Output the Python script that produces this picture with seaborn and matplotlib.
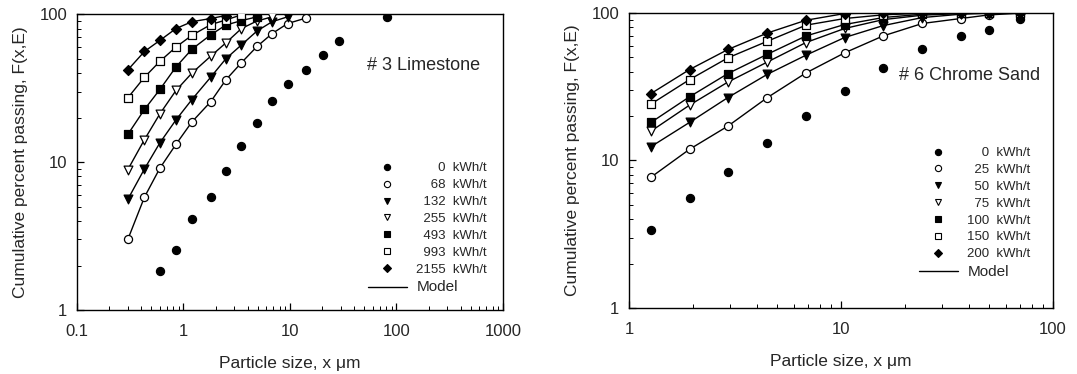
import pandas as pd
import matplotlib
matplotlib.use('Agg')
import matplotlib.pyplot as plt
from matplotlib.lines import Line2D
from matplotlib.ticker import LogLocator, FuncFormatter, NullFormatter
import seaborn as sns

# ── #3 Limestone: particle size (um) and cumulative % passing ──
ls_size = [0.3, 0.43, 0.6, 0.85, 1.2, 1.8, 2.5, 3.5, 4.9, 6.8, 9.5, 14, 20.5, 29, 82]
ls_energy = [0, 68, 132, 255, 493, 993, 2155]
ls_feed = [1.84, 2.53, 4.1, 5.8, 8.7, 12.9, 18.4, 25.7, 33.6, 42, 53, 66, 96]  # from 0.6 um
ls_e68 = [3.0, 5.8, 9.1, 13.2, 18.7, 25.6, 36, 47, 60.5, 74, 86.5, 94]
ls_e132 = [5.6, 9.0, 13.5, 19.3, 26.5, 37.5, 50, 62, 77, 89, 96]
ls_e255 = [8.9, 14.2, 21.2, 30.5, 40, 52, 64, 80, 90, 96]
ls_e493 = [15.4, 22.7, 31, 44, 58, 72.5, 84.5, 90.5, 96]
ls_e993 = [27.2, 37.5, 48, 60, 72, 85, 91.5, 99]
ls_e2155 = [42, 56, 66.5, 80, 89, 93.5, 98]

# ── #6 Chrome Sand ──
cs_size = [1.27, 1.93, 2.93, 4.5, 6.84, 10.4, 15.8, 24.2, 36.7, 50, 70]
cs_energy = [0, 25, 50, 75, 100, 150, 200]
cs_feed = [3.36, 5.57, 8.3, 13.1, 19.9, 29.5, 42.3, 56.5, 69.5, 76.4, 90.6]
cs_e25 = [7.7, 11.9, 17.1, 26.7, 39.2, 53.6, 69.8, 84.8, 91.6, 97, 99.5]
cs_e50 = [12.4, 18.1, 26.7, 38.4, 51.7, 68.1, 82, 93, 98, 99.5, 100]
cs_e75 = [15.8, 23.7, 34, 46.5, 63, 78.4, 90, 96.5, 99, 100, 100]
cs_e100 = [18.1, 27, 38.8, 52.5, 69.8, 83.4, 93, 98, 99.5, 100, 100]
cs_e150 = [24.1, 35.3, 49.6, 64.3, 82.6, 91.6, 97, 99.5, 100, 100, 100]
cs_e200 = [28.4, 41.3, 56.5, 73.1, 89.2, 99, 100, 100, 100, 100, 100]

# marker, face colour, size for each energy level (same order in both panels)
STYLES = [('o', 'black', 34), ('o', 'white', 34), ('v', 'black', 40), ('v', 'white', 40),
          ('s', 'black', 30), ('s', 'white', 30), ('D', 'black', 26)]


def long_frame(size, energy, all_series, feed_offset):
    parts = []
    for i, (e, vals) in enumerate(zip(energy, all_series)):
        start = feed_offset if i == 0 else 0
        xs = size[start:start + len(vals)]
        parts.append(pd.DataFrame({'size': xs, 'passing': vals, 'energy': e}))
    return pd.concat(parts, ignore_index=True)


df_ls = long_frame(ls_size, ls_energy,
                   [ls_feed, ls_e68, ls_e132, ls_e255, ls_e493, ls_e993, ls_e2155], 2)
df_cs = long_frame(cs_size, cs_energy,
                   [cs_feed, cs_e25, cs_e50, cs_e75, cs_e100, cs_e150, cs_e200], 0)

sns.set_style('ticks')
plt.rcParams['font.family'] = ['Liberation Sans', 'DejaVu Sans']
plt.rcParams['axes.linewidth'] = 1.0

fig = plt.figure(figsize=(10.77, 3.74), dpi=100)
ax1 = fig.add_axes([0.0715, 0.171, 0.3955, 0.791])
ax2 = fig.add_axes([0.584, 0.1765, 0.3937, 0.789])


def draw_panel(ax, df, energy, wide_digits, anchor):
    handles, labels = [], []
    for i, e in enumerate(energy):
        sub = df[df['energy'] == e]
        marker, face, size = STYLES[i]
        if i > 0:
            # model fit line (feed has no model)
            sns.lineplot(data=sub, x='size', y='passing', ax=ax, color='black',
                         linewidth=1.0, sort=True, legend=False)
        sns.scatterplot(data=sub, x='size', y='passing', ax=ax, marker=marker,
                        color=face, edgecolor='black', linewidth=0.9, s=size,
                        zorder=5, legend=False)
        handles.append(Line2D([], [], marker=marker, linestyle='none',
                              markerfacecolor=face, markeredgecolor='black',
                              markeredgewidth=0.8, markersize=4.5))
        labels.append(str(e).rjust(wide_digits, '\u2007') + '  kWh/t')
    handles.append(Line2D([], [], color='black', linewidth=1.0))
    labels.append('Model')

    ax.set_xscale('log')
    ax.set_yscale('log')
    ax.set_ylim(1, 100)
    fmt = FuncFormatter(lambda v, p: f'{v:g}')
    ax.xaxis.set_major_formatter(fmt)
    ax.yaxis.set_major_formatter(fmt)
    ax.xaxis.set_minor_locator(LogLocator(base=10, subs=range(2, 10)))
    ax.yaxis.set_minor_locator(LogLocator(base=10, subs=range(2, 10)))
    ax.xaxis.set_minor_formatter(NullFormatter())
    ax.yaxis.set_minor_formatter(NullFormatter())
    ax.tick_params(which='both', direction='in', top=False, right=False,
                   labelsize=12, color='black')
    ax.tick_params(which='major', length=5, width=0.9)
    ax.tick_params(which='minor', length=3, width=0.7)
    ax.tick_params(axis='x', pad=10)
    ax.tick_params(axis='y', pad=7)
    for sp in ax.spines.values():
        sp.set_visible(True)
        sp.set_color('black')
    ax.set_xlabel('Particle size, x \u03bcm', fontsize=12.5, labelpad=12)
    ax.set_ylabel('Cumulative percent passing, F(x,E)', fontsize=12.5, labelpad=8)

    leg = ax.legend(handles, labels, loc='lower right', bbox_to_anchor=anchor,
                    frameon=False, fontsize=9.5, handlelength=3.0,
                    handletextpad=0.7, labelspacing=0.35, borderaxespad=0.8)
    leg.get_texts()[-1].set_fontsize(11)
    return leg


draw_panel(ax1, df_ls, ls_energy, 4, (1.0, 0.0))
ax1.set_xlim(0.1, 1000)
ax1.text(0.68, 0.825, '# 3 Limestone', transform=ax1.transAxes,
         fontsize=13, va='center', ha='left')

draw_panel(ax2, df_cs, cs_energy, 3, (0.985, 0.045))
ax2.set_xlim(1, 100)
ax2.text(0.637, 0.787, '# 6 Chrome Sand', transform=ax2.transAxes,
         fontsize=13, va='center', ha='left')

fig.savefig('out.png', dpi=100)
